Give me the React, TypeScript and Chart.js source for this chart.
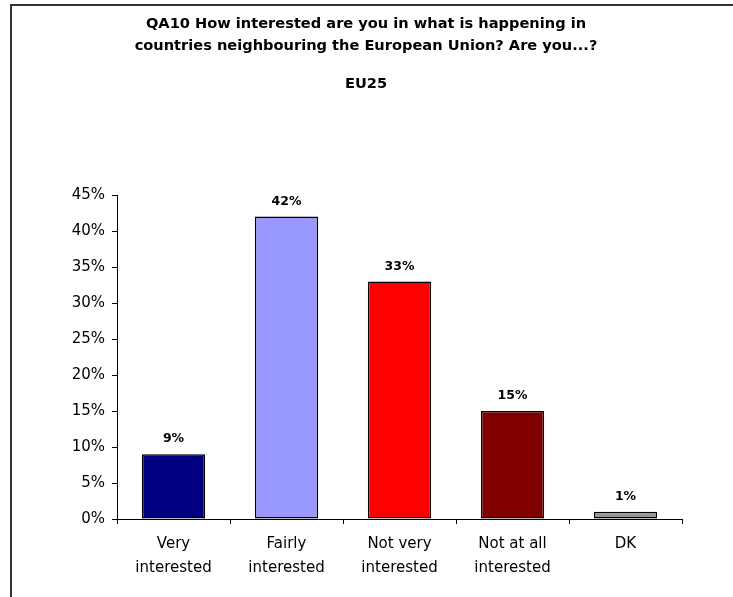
import React, { useEffect, useRef } from "react";
import { Chart, registerables } from "chart.js";

Chart.register(...registerables);

const titleLines = [
  "QA10 How interested are you in what is happening in",
  "countries neighbouring the European Union? Are you...?",
];
const subtitle = "EU25";
const categories: string[][] = [
  ["Very", "interested"],
  ["Fairly", "interested"],
  ["Not very", "interested"],
  ["Not at all", "interested"],
  ["DK"],
];
const values = [9, 42, 33, 15, 1];
const barColors = ["#000080", "#9999FF", "#FF0000", "#800000", "#969696"];
const yTicks = [0, 5, 10, 15, 20, 25, 30, 35, 40, 45];

const FONT = "'DejaVu Sans', Verdana, sans-serif";

export default function App() {
  const ref = useRef<HTMLCanvasElement | null>(null);
  useEffect(() => {
    if (!ref.current) return;
    const labelsPlugin = {
      id: "labelsPlugin",
      afterDraw(chart: any) {
        const ctx = chart.ctx;
        ctx.save();
        ctx.fillStyle = "#000";
        ctx.textAlign = "center";
        ctx.textBaseline = "middle";
        ctx.font = `bold 14.6px ${FONT}`;
        ctx.fillText(titleLines[0], 366, 24);
        ctx.fillText(titleLines[1], 366, 46);
        ctx.fillText(subtitle, 366, 84);
        const meta = chart.getDatasetMeta(0);
        ctx.font = `bold 12.5px ${FONT}`;
        meta.data.forEach((bar: any, i: number) => {
          ctx.fillText(values[i] + "%", bar.x, bar.y - 15);
        });
        ctx.restore();
      },
    };
    const chart = new Chart(ref.current, {
      type: "bar",
      data: {
        labels: categories,
        datasets: [
          {
            data: values,
            backgroundColor: barColors,
            borderColor: "#000",
            borderWidth: 1.5,
            borderSkipped: false,
            barPercentage: 0.56,
            categoryPercentage: 1,
          },
        ],
      },
      options: {
        animation: false,
        responsive: false,
        layout: { padding: { top: 195, right: 51, left: 0, bottom: 0 } },
        plugins: {
          legend: { display: false },
          title: { display: false },
          tooltip: { enabled: false },
        },
        scales: {
          x: {
            grid: {
              offset: true,
              drawOnChartArea: false,
              drawTicks: true,
              tickLength: 5,
              tickColor: "#000",
            },
            border: { display: true, color: "#000", width: 1 },
            ticks: {
              color: "#000",
              font: { family: FONT, size: 15, lineHeight: 1.6 },
              padding: 8,
              maxRotation: 0,
              autoSkip: false,
            },
            afterFit(scale: any) {
              scale.height = 78;
            },
          },
          y: {
            min: 0,
            max: 45,
            afterBuildTicks(scale: any) {
              scale.ticks = yTicks.map((v) => ({ value: v }));
            },
            grid: {
              drawOnChartArea: false,
              drawTicks: true,
              tickLength: 5,
              tickColor: "#000",
            },
            border: { display: true, color: "#000", width: 1 },
            ticks: {
              color: "#000",
              font: { family: FONT, size: 15 },
              padding: 7,
              callback: (v: any) => v + "%",
            },
            afterFit(scale: any) {
              scale.width = 117;
            },
          },
        },
      },
      plugins: [labelsPlugin],
    });
    return () => chart.destroy();
  }, []);
  return (
    <div
      style={{
        position: "fixed",
        left: 0,
        top: 0,
        width: 733,
        height: 597,
        background: "#fff",
        overflow: "hidden",
      }}
    >
      <div
        style={{
          position: "absolute",
          left: 10,
          top: 4,
          width: 760,
          height: 640,
          borderLeft: "2px solid #333",
          borderTop: "2px solid #333",
        }}
      />
      <canvas
        ref={ref}
        width={733}
        height={597}
        style={{ position: "absolute", left: 0, top: 0 }}
      />
    </div>
  );
}
